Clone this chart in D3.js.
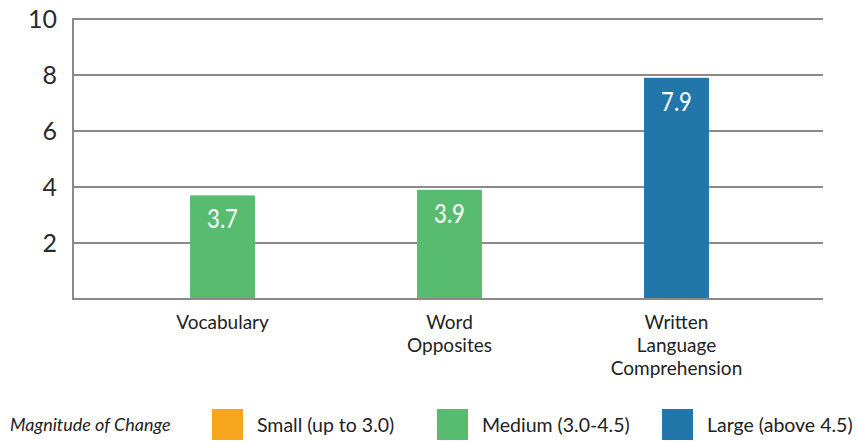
<!DOCTYPE html>
<html>
<head>
<meta charset="utf-8">
<script src="https://cdn.jsdelivr.net/npm/d3@7.9.0/dist/d3.min.js"></script>
<style>
  body { margin: 0; background: #fff; }
  svg { display: block; font-family: Lato, "DejaVu Sans", sans-serif; }
</style>
</head>
<body>
<div id="chart"></div>
<script>
const categories = [['Vocabulary'], ['Word', 'Opposites'], ['Written', 'Language', 'Comprehension']];
const values = [3.7, 3.9, 7.9];
const yTicks = [2, 4, 6, 8, 10];
const legendLabels = ['Small (up to 3.0)', 'Medium (3.0-4.5)', 'Large (above 4.5)'];
const legendColors = ['#F6A71E', '#58BC70', '#2276AA'];

const width = 857, height = 441;
const svg = d3.select('#chart').append('svg')
  .attr('width', width).attr('height', height);

const plotLeft = 73, plotRight = 823, plotTop = 19, plotBottom = 299;

const y = d3.scaleLinear().domain([0, 10]).range([plotBottom, plotTop]);
const x = d3.scaleBand()
  .domain(d3.range(values.length))
  .range([109, 790])
  .paddingInner(0.714)
  .paddingOuter(0.357);

function colorFor(v) {
  if (v <= 3.0) return legendColors[0];
  if (v <= 4.5) return legendColors[1];
  return legendColors[2];
}

// gridlines
svg.append('g')
  .selectAll('line')
  .data(yTicks)
  .join('line')
  .attr('x1', plotLeft).attr('x2', plotRight)
  .attr('y1', d => y(d)).attr('y2', d => y(d))
  .attr('stroke', '#8a8a8a').attr('stroke-width', 2);

// y labels
svg.append('g')
  .selectAll('text')
  .data(yTicks)
  .join('text')
  .attr('x', 57).attr('y', d => y(d))
  .attr('dy', '0.36em')
  .attr('text-anchor', 'end')
  .attr('font-size', 25)
  .attr('fill', '#2b2b2b')
  .text(d => d);

// bars
svg.append('g')
  .selectAll('rect')
  .data(values)
  .join('rect')
  .attr('x', (d, i) => x(i))
  .attr('width', x.bandwidth())
  .attr('y', d => y(d))
  .attr('height', d => y(0) - y(d))
  .attr('fill', d => colorFor(d));

// value labels (narrowed to look condensed)
svg.append('g')
  .selectAll('text')
  .data(values)
  .join('text')
  .attr('transform', (d, i) => `translate(${x(i) + x.bandwidth() / 2},${y(d) + 33}) scale(0.82,1)`)
  .attr('text-anchor', 'middle')
  .attr('font-size', 27)
  .attr('fill', '#fff')
  .text(d => d.toFixed(1));

// axes lines
svg.append('line')
  .attr('x1', plotLeft).attr('x2', plotRight)
  .attr('y1', plotBottom).attr('y2', plotBottom)
  .attr('stroke', '#8a8a8a').attr('stroke-width', 2);
svg.append('line')
  .attr('x1', plotLeft).attr('x2', plotLeft)
  .attr('y1', plotTop - 1).attr('y2', plotBottom + 1)
  .attr('stroke', '#8a8a8a').attr('stroke-width', 2);

// category labels
const cat = svg.append('g')
  .selectAll('text')
  .data(categories)
  .join('text')
  .attr('x', (d, i) => x(i) + x.bandwidth() / 2)
  .attr('y', 329)
  .attr('text-anchor', 'middle')
  .attr('font-size', 19)
  .attr('fill', '#222');
cat.selectAll('tspan')
  .data(d => d)
  .join('tspan')
  .attr('x', function () { return this.parentNode.getAttribute('x'); })
  .attr('dy', (d, i) => i === 0 ? 0 : 23)
  .text(d => d);

// legend
const lg = svg.append('g');
lg.append('text')
  .attr('x', 10).attr('y', 431)
  .attr('font-size', 18)
  .attr('font-style', 'italic')
  .attr('fill', '#222')
  .text('Magnitude of Change');

const legendX = [212, 437, 662];
const item = lg.selectAll('g.item')
  .data(legendLabels)
  .join('g')
  .attr('class', 'item')
  .attr('transform', (d, i) => `translate(${legendX[i]},409)`);
item.append('rect')
  .attr('width', 31).attr('height', 31)
  .attr('fill', (d, i) => legendColors[i]);
item.append('text')
  .attr('x', 45).attr('y', 23)
  .attr('font-size', 19.5)
  .attr('fill', '#222')
  .text(d => d);
</script>
</body>
</html>
